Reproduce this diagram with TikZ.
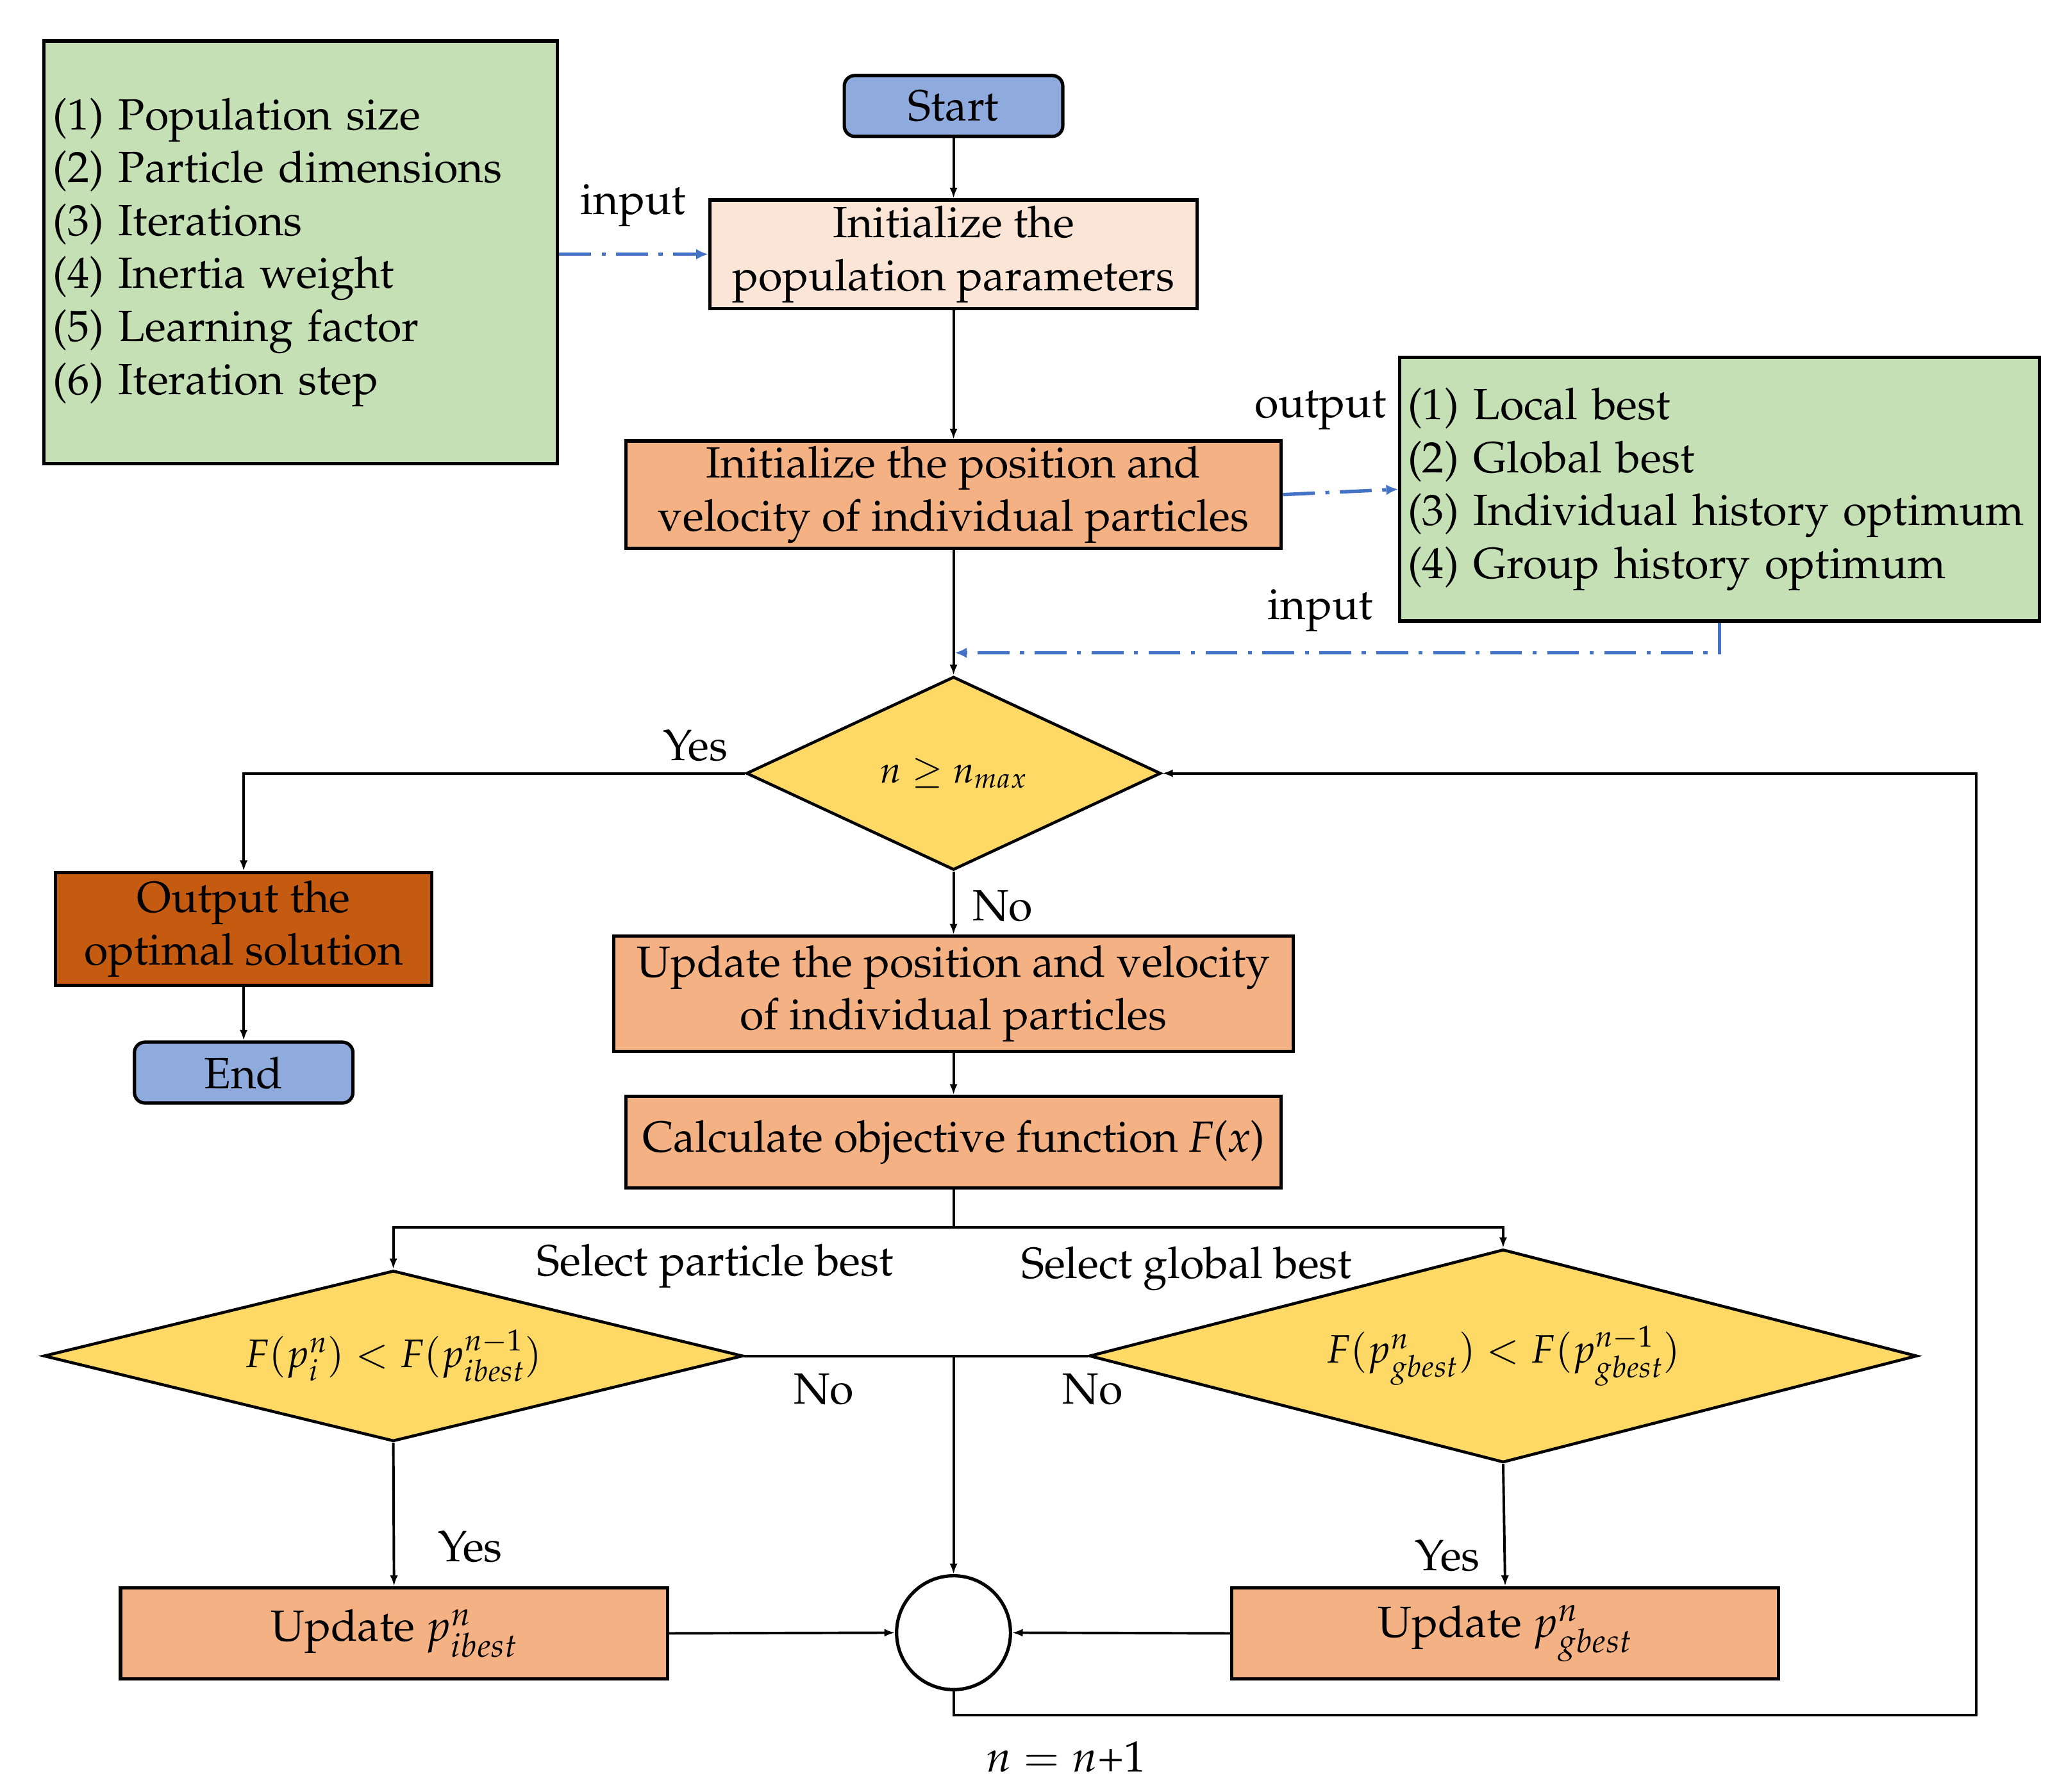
\documentclass[tikz,border=0pt]{standalone}
\usepackage[T1]{fontenc}
\usepackage{mathpazo}
\usetikzlibrary{shapes.geometric,arrows.meta}
\definecolor{boxgreen}{HTML}{C5E0B4}
\definecolor{boxblue}{HTML}{8FAADC}
\definecolor{boxpeach}{HTML}{FBE5D6}
\definecolor{boxorange}{HTML}{F4B183}
\definecolor{boxgold}{HTML}{FFD966}
\definecolor{boxdark}{HTML}{C55A11}
\definecolor{flowblue}{HTML}{4472C4}
\begin{document}
\begin{tikzpicture}[x=1pt,y=-1pt,
  font=\fontsize{33}{40}\selectfont,
  every node/.style={inner sep=0pt},
  boxbase/.style={draw=black, line width=2.5pt, align=center, rectangle},
  procbox/.style={boxbase, fill=boxorange},
  termbox/.style={boxbase, fill=boxblue, rounded corners=8pt},
  greenbox/.style={boxbase, fill=boxgreen, align=left},
  decbox/.style={draw=black, line width=2.2pt, diamond, fill=boxgold, inner sep=0pt,
    font=\fontsize{30}{34}\selectfont},
  conn/.style={draw=black, line width=1.9pt, -{Latex[length=8pt,width=6pt]}},
  plainconn/.style={draw=black, line width=1.9pt},
  dashconn/.style={draw=flowblue, line width=2.6pt,
    dash pattern=on 24pt off 8pt on 3pt off 8pt, -{Latex[length=9pt,width=8pt]}},
  lbl/.style={inner sep=0pt}
]
\useasboundingbox (0,0) rectangle (1560,1353);

% boxes
\node[greenbox, minimum width=388pt, minimum height=319pt, text width=374pt, inner xsep=7pt] (g1) at (227,190.5)
  {(1) Population size\\(2) Particle dimensions\\(3) Iterations\\(4) Inertia weight\\(5) Learning factor\\(6) Iteration step};
\node[termbox, minimum width=165pt, minimum height=46pt] (start) at (720,80) {Start};
\node[boxbase, fill=boxpeach, minimum width=368pt, minimum height=82pt] (initpop) at (720,192)
  {Initialize the\\population parameters};
\node[procbox, minimum width=495pt, minimum height=81pt] (initpos) at (720,373.5)
  {Initialize the position and\\velocity of individual particles};
\node[greenbox, minimum width=483pt, minimum height=199pt, text width=471pt, inner xsep=6pt] (g2) at (1298.5,369.5)
  {(1) Local best\\(2) Global best\\(3) Individual history optimum\\(4) Group history optimum};
\node[decbox, minimum width=313pt, minimum height=146pt, shape aspect=2.14, font=\fontsize{28}{32}\selectfont] (d1) at (720,584) {$n \geq n_{max}$};
\node[boxbase, fill=boxdark, minimum width=284pt, minimum height=85pt] (out) at (184,701.5)
  {Output the\\optimal solution};
\node[termbox, minimum width=165pt, minimum height=46pt] (end) at (184,810) {End};
\node[procbox, minimum width=513pt, minimum height=87pt] (upd) at (720,750.5)
  {Update the position and velocity\\of individual particles};
\node[procbox, minimum width=495pt, minimum height=69pt] (calc) at (720,862.5)
  {Calculate objective function \textit{F}(\textit{x})};
\node[decbox, minimum width=528pt, minimum height=129pt, shape aspect=4.1] (d2) at (297,1024)
  {$F(p_i^n) < F(p_{ibest}^{n-1})$};
\node[decbox, minimum width=625pt, minimum height=161pt, shape aspect=3.88] (d3) at (1135,1024)
  {$F(p_{gbest}^n) < F(p_{gbest}^{n-1})$};
\node[draw=black, line width=2.5pt, circle, minimum size=86pt, fill=white] (join) at (720,1233) {};
\node[procbox, minimum width=413pt, minimum height=69pt] (ui) at (297.5,1233.5) {Update $p_{ibest}^n$};
\node[procbox, minimum width=413pt, minimum height=69pt] (ug) at (1136.5,1233.5) {Update $p_{gbest}^n$};

% coordinates
\coordinate (split) at (720,927);
\coordinate (mid) at (720,1024);
\coordinate (loopc) at (1492,1295);
\coordinate (fb) at (721,493);

% connectors
\draw[conn] (start.south) -- (initpop.north);
\draw[conn] (initpop.south) -- (initpos.north);
\draw[conn] (initpos.south) -- (d1.north);
\draw[conn] (d1.west) -| (out.north);
\draw[conn] (out.south) -- (end.north);
\draw[conn] (d1.south) -- (upd.north);
\draw[conn] (upd.south) -- (calc.north);
\draw[plainconn] (calc.south) -- (split);
\draw[conn] (split) -| (d2.north);
\draw[conn] (split) -| (d3.north);
\draw[plainconn] (d2.east) -- (mid);
\draw[plainconn] (d3.west) -- (mid);
\draw[conn] (mid) -- (join.north);
\draw[conn] (d2.south) -- (ui.north);
\draw[conn] (d3.south) -- (ug.north);
\draw[conn] (ui.east) -- (join.west);
\draw[conn] (ug.west) -- (join.east);
\draw[conn] (join.south) |- (loopc) |- (d1.east);

% blue dash-dot connectors
\draw[dashconn] (g1.east |- initpop.west) -- (initpop.west);
\draw[dashconn] (initpos.east) -- (g2.west);
\draw[dashconn] (g2.south) |- (fb);

% labels
\node[lbl] (lin1) at (478,155) {input};
\node[lbl] (lout) at (997,310) {output};
\node[lbl] (lin2) at (997,461) {input};
\node[lbl] (ly1) at (525,563) {Yes};
\node[lbl] (ln1) at (757,684) {No};
\node[lbl] (lsp) at (540,956) {Select particle best};
\node[lbl] (lsg) at (896,958) {Select global best};
\node[lbl] (ln2) at (622,1049) {No};
\node[lbl] (ln3) at (825,1049) {No};
\node[lbl] (ly2) at (355,1168) {Yes};
\node[lbl] (ly3) at (1093,1175) {Yes};
\node[lbl] (lnn) at (805,1327) {$n = n$+1};
\end{tikzpicture}
\end{document}
